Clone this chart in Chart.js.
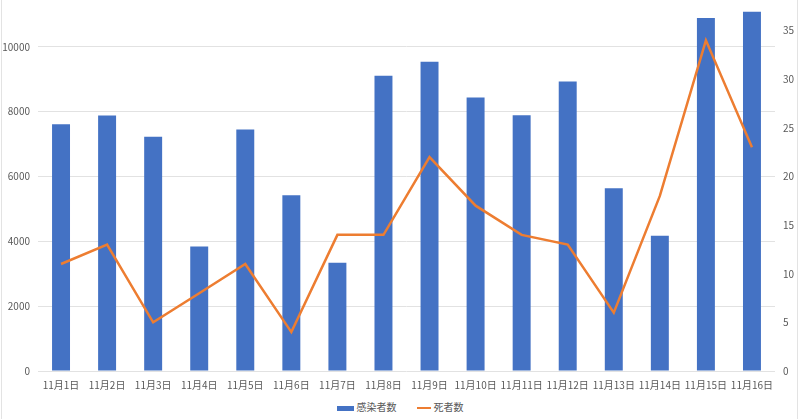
<!DOCTYPE html>
<html>
<head>
<meta charset="utf-8">
<script src="https://cdn.jsdelivr.net/npm/chart.js@4"></script>
<style>
  html, body { margin: 0; padding: 0; background: #fff; }
  #frame { position: relative; width: 800px; height: 419px; overflow: hidden;
           font-family: "Noto Sans CJK JP", "Noto Sans", sans-serif; }
  #edge { position: absolute; left: 1px; right: 2px; top: 0; bottom: 0;
          border-left: 1px solid #e3e3e3; border-right: 1px solid #e3e3e3; }
  #box { position: absolute; left: 0; top: -32px; width: 800px; height: 423px; }
  #legend { position: absolute; left: 0; width: 800px; top: 399px; text-align: center;
            font-size: 10px; color: #595959; line-height: 16px; }
  #legend span.item { display: inline-block; margin: 0 10px; }
  #legend span.sw { display: inline-block; vertical-align: middle; margin-right: 3px; }
</style>
</head>
<body>
<div id="frame">
  <div id="edge"></div>
  <div id="box"><canvas id="covidChart"></canvas></div>
  <div id="legend"></div>
</div>
<script>
// 11月の日別データ
var days = ['11月1日', '11月2日', '11月3日', '11月4日', '11月5日', '11月6日', '11月7日', '11月8日',
	'11月9日', '11月10日', '11月11日', '11月12日', '11月13日', '11月14日', '11月15日', '11月16日'];
var infected = [7610, 7880, 7230, 3840, 7450, 5420, 3340, 9110, 9540, 8440, 7890, 8930, 5640, 4170, 10890, 11080];
var deaths = [11, 13, 5, 8, 11, 4, 14, 14, 22, 17, 14, 13, 6, 18, 34, 23];

Chart.defaults.font.family = '"Noto Sans CJK JP", "Noto Sans", sans-serif';
Chart.defaults.font.size = 10;
Chart.defaults.color = '#595959';

const ctx = document.getElementById('covidChart').getContext('2d');
const myChart = new Chart(ctx, {
	data: {
		labels: days,
		datasets: [{
			type: 'bar',
			label: '感染者数',
			data: infected,
			backgroundColor: '#4472C4',
			borderWidth: 0,
			barPercentage: 0.39,
			categoryPercentage: 1,
			yAxisID: 'y',
			order: 2
		}, {
			type: 'line',
			label: '死者数',
			data: deaths,
			borderColor: '#ED7D31',
			backgroundColor: '#ED7D31',
			borderWidth: 2.5,
			pointRadius: 0,
			tension: 0,
			yAxisID: 'y1',
			order: 1
		}]
	},
	options: {
		responsive: true,
		maintainAspectRatio: false,
		animation: false,
		layout: { padding: { top: 12, left: 0, right: 0, bottom: 0 } },
		plugins: {
			tooltip: { enabled: false },
			legend: { display: false }
		},
		scales: {
			x: {
				grid: { display: false },
				border: { display: false },
				ticks: { maxRotation: 0, autoSkip: false, padding: 0 }
			},
			y: {
				position: 'left',
				min: 0,
				max: 12000,
				ticks: { stepSize: 2000, padding: 8, callback: function(v) { return String(v); } },
				grid: { color: '#e2e2e2', drawTicks: false },
				border: { display: false },
				afterFit: function(scale) { scale.width = 38; }
			},
			y1: {
				position: 'right',
				min: 0,
				max: 40,
				ticks: { stepSize: 5, padding: 8 },
				grid: { display: false, drawTicks: false },
				border: { display: false },
				afterFit: function(scale) { scale.width = 25; }
			}
		}
	}
});

// 凡例 (HTML)
var legendHtml = '';
myChart.data.datasets.forEach(function(ds) {
	var sw = ds.type === 'bar'
		? '<span class="sw" style="width:17px;height:5px;background:' + ds.backgroundColor + '"></span>'
		: '<span class="sw" style="width:14px;height:2px;background:' + ds.borderColor + '"></span>';
	legendHtml += '<span class="item">' + sw + ds.label + '</span>';
});
document.getElementById('legend').innerHTML = legendHtml;
</script>
</body>
</html>
